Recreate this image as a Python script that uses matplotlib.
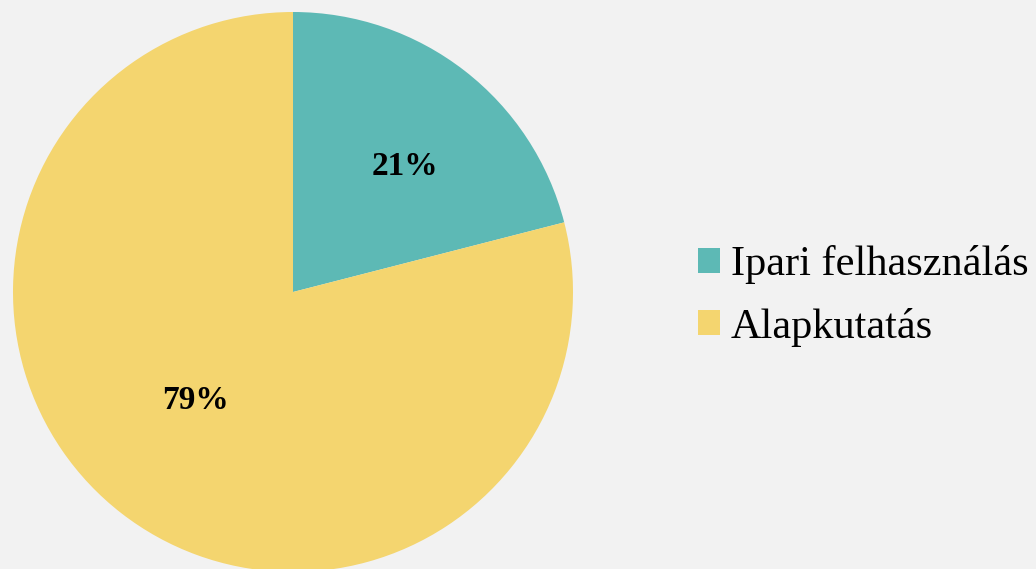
import numpy as np
import matplotlib.pyplot as plt
from matplotlib.patches import Patch

labels = ['Ipari felhasználás', 'Alapkutatás']
shares = [21, 79]
colours = ['#5DB9B5', '#F4D56F']

plt.rcParams['font.family'] = ['Liberation Serif', 'DejaVu Serif']

fig = plt.figure(figsize=(10.36, 5.69), dpi=100)
fig.patch.set_facecolor('#F2F2F2')

# pie axes: 560px square centred at (293, 292) from top-left
ax = fig.add_axes([13/1036, (277-280)/569, 560/1036, 560/569])
ax.set_facecolor('#F2F2F2')
wedges, texts, autotexts = ax.pie(shares, colors=colours, startangle=90,
                                  counterclock=False, autopct='%d%%',
                                  pctdistance=0.57, radius=1,
                                  textprops={'fontsize': 24, 'fontweight': 'bold',
                                             'color': 'black'})
# push the labels a little in/out like the original
for w, t, d in zip(wedges, autotexts, [0.6, 0.52]):
    ang = np.deg2rad((w.theta1 + w.theta2) / 2 - 4)
    t.set_position((d * np.cos(ang), d * np.sin(ang)))

ax.set_xlim(-1, 1)
ax.set_ylim(-1, 1)
ax.set_aspect('equal')
ax.axis('off')

handles = [Patch(facecolor=c, edgecolor='none') for c in colours]
fig.legend(handles, labels, loc='center left',
           bbox_to_anchor=(698/1036, (569-296)/569),
           frameon=False, fontsize=30.5, borderpad=0, borderaxespad=0,
           handlelength=0.52, handleheight=0.52, handletextpad=0.25,
           labelspacing=0.55)

fig.savefig('out.png', dpi=100, facecolor=fig.get_facecolor())
